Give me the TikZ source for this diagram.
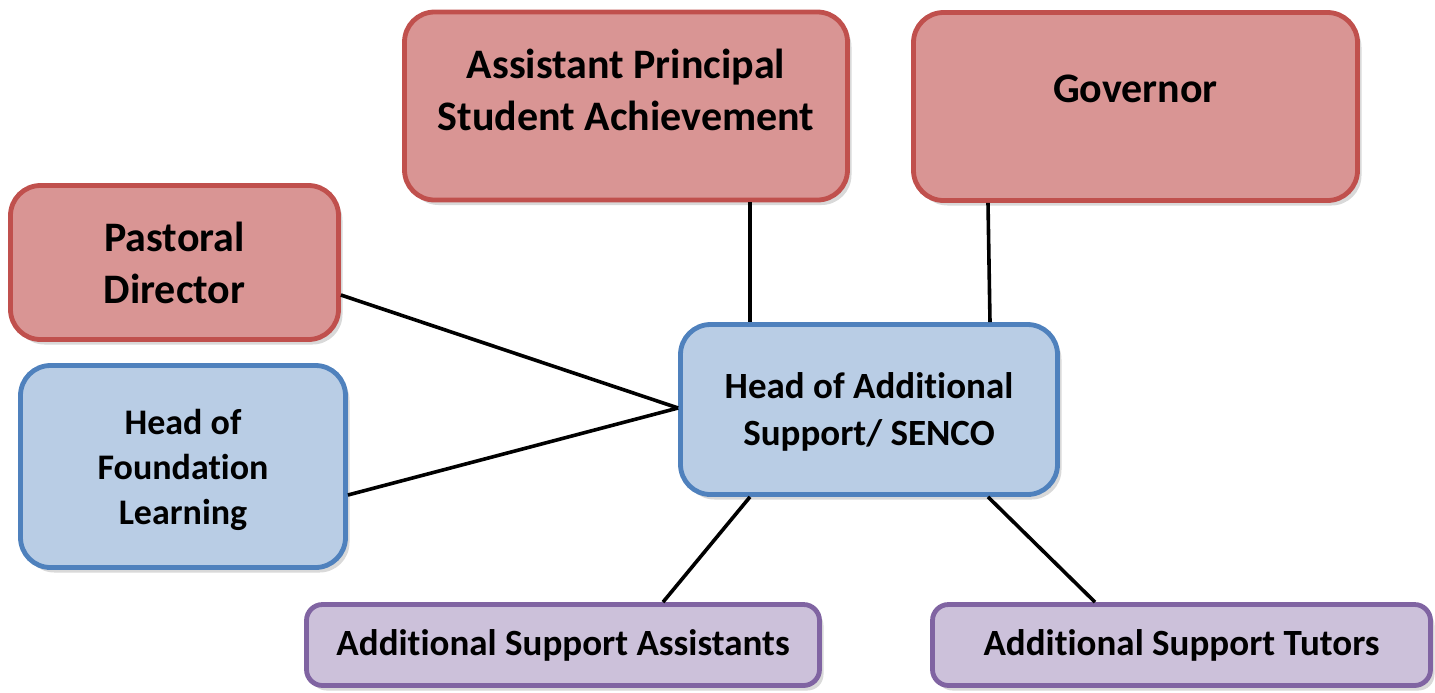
\documentclass[tikz,border=0pt]{standalone}
\usepackage{fontspec}
\setmainfont{Carlito}[Ligatures=NoCommon]
\usetikzlibrary{shadows,calc}
\definecolor{redfill}{HTML}{D99594}
\definecolor{redline}{HTML}{C0504D}
\definecolor{bluefill}{HTML}{B9CDE5}
\definecolor{blueline}{HTML}{4F81BD}
\definecolor{purfill}{HTML}{CCC1DA}
\definecolor{purline}{HTML}{8064A2}
\tikzset{
  box/.style={draw, line width=2.4pt, rounded corners=15pt, inner sep=0pt,
    drop shadow={shadow xshift=2pt, shadow yshift=-2.5pt, opacity=0.3}},
  redbox/.style={box, fill=redfill, draw=redline},
  bluebox/.style={box, fill=bluefill, draw=blueline},
  purbox/.style={box, fill=purfill, draw=purline, rounded corners=8pt},
  big/.style={font=\bfseries\fontsize{21}{26}\selectfont, align=center, inner sep=0pt},
  mid/.style={font=\bfseries\fontsize{18.5}{23.5}\selectfont, align=center, inner sep=0pt},
  conn/.style={line width=1.8pt, black},
}
\begin{document}
\begin{tikzpicture}[x=0.5pt, y=-0.5pt]
\useasboundingbox (0,0) rectangle (1435,692);
% boxes
\node[redbox, minimum width=221.5pt, minimum height=94pt] (ap) at (626,106) {};
\node[big] (aptext) at (626,90) {Assistant Principal\\Student Achievement};
\node[redbox, minimum width=222pt, minimum height=94pt] (gov) at (1135.5,106.5) {};
\node[big] (govtext) at (1135.5,89) {Governor};
\node[redbox, minimum width=164pt, minimum height=77pt, big] (past) at (174.5,262.5) {Pastoral\\Director};
\node[bluebox, minimum width=162.5pt, minimum height=101pt, font=\bfseries\fontsize{18}{22.5}\selectfont, align=center, text depth=0pt] (found) at (183,466.5) {Head of\\Foundation\\Learning};
\node[bluebox, minimum width=188.5pt, minimum height=85pt, mid, text depth=0pt] (senco) at (869,409.5) {Head of Additional\\Support/ SENCO};
\node[purbox, minimum width=256.5pt, minimum height=40.5pt, mid] (asst) at (563,645) {Additional Support Assistants};
\node[purbox, minimum width=249pt, minimum height=40.5pt, mid] (tut) at (1181.5,645) {Additional Support Tutors};
% connectors
\draw[conn] (ap.south -| 750,0) -- (senco.north -| 750,0);
\draw[conn] (gov.south -| 988,0) -- (senco.north -| 990,0);
\draw[conn] (past.east |- 0,295) -- (senco.west |- 0,408);
\draw[conn] (found.east |- 0,495) -- (senco.west |- 0,408);
\draw[conn] (senco.south -| 750,0) -- (asst.north -| 663,0);
\draw[conn] (senco.south -| 988,0) -- (tut.north -| 1095,0);
\end{tikzpicture}
\end{document}
